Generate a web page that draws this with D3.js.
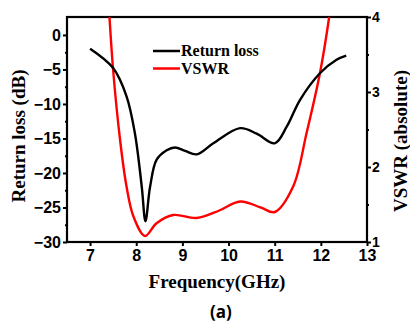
<!DOCTYPE html>
<html>
<head>
<meta charset="utf-8">
<script src="https://cdn.jsdelivr.net/npm/d3@7"></script>
<style>
  body { margin: 0; background: #fff; }
  svg { display: block; }
</style>
</head>
<body>
<svg id="chart" width="410" height="324"></svg>
<script>
// Return loss (dB)
const rlFreq = [7.0, 7.5, 7.79, 7.97, 8.12, 8.2, 8.3, 8.44, 8.66, 8.84, 9.06, 9.31, 9.67, 10.25, 10.61, 11.0, 11.26, 11.55, 11.98, 12.34, 12.55];
const rlDb   = [-2.0, -4.8, -8.9, -14.2, -22.0, -27.0, -22.0, -18.1, -16.7, -16.3, -16.8, -17.3, -15.7, -13.5, -14.3, -15.7, -13.3, -9.4, -5.55, -3.6, -3.0];

// VSWR (absolute)
const vsFreq = [7.38, 7.42, 7.5, 7.65, 7.79, 7.94, 8.19, 8.44, 8.8, 9.31, 9.8, 10.25, 10.7, 11.0, 11.4, 11.69, 11.98, 12.18, 12.22];
const vsVal  = [4.4, 4.0, 3.29, 2.36, 1.74, 1.34, 1.08, 1.25, 1.36, 1.32, 1.42, 1.54, 1.46, 1.4, 1.74, 2.45, 3.25, 4.0, 4.2];

const xTicks = [7, 8, 9, 10, 11, 12, 13];
const yLeftTicks = [0, -5, -10, -15, -20, -25, -30];
const yRightTicks = [1, 2, 3, 4];

const margin = { left: 67, top: 17, right: 43, bottom: 82 };
const W = 410, H = 324;
const iw = W - margin.left - margin.right;
const ih = H - margin.top - margin.bottom;

const svg = d3.select('#chart');
const g = svg.append('g').attr('transform', `translate(${margin.left},${margin.top})`);

const x = d3.scaleLinear().domain([6.5, 13]).range([0, iw]);
const yL = d3.scaleLinear().domain([-30, 2.6]).range([ih, 0]);
const yR = d3.scaleLinear().domain([1, 4]).range([ih, 0]);

const tickFont = 'Liberation Sans, Arial, sans-serif';
const serif = 'Liberation Serif, Times New Roman, serif';

// axes
const xAxis = g.append('g').attr('transform', `translate(0,${ih})`)
  .call(d3.axisBottom(x).tickValues(xTicks).tickFormat(d3.format('d')).tickSize(4).tickPadding(4));

const yAxisL = g.append('g')
  .call(d3.axisLeft(yL).tickValues(yLeftTicks).tickSize(4).tickPadding(2));
const yMinorL = g.append('g')
  .call(d3.axisLeft(yL).tickValues([-2.5, -7.5, -12.5, -17.5, -22.5, -27.5]).tickFormat('').tickSize(2));

const yAxisR = g.append('g').attr('transform', `translate(${iw},0)`)
  .call(d3.axisRight(yR).tickValues(yRightTicks).tickFormat(d3.format('d')).tickSize(4).tickPadding(1));
const yMinorR = g.append('g').attr('transform', `translate(${iw},0)`)
  .call(d3.axisRight(yR).tickValues([1.5, 2.5, 3.5]).tickFormat('').tickSize(2));

[xAxis, yAxisL, yMinorL, yAxisR, yMinorR].forEach(a => {
  a.select('.domain').remove();
  a.selectAll('line').attr('stroke', '#000').attr('stroke-width', 2);
  a.selectAll('text')
    .attr('font-family', tickFont)
    .attr('font-weight', 'bold')
    .attr('font-size', '16px')
    .attr('fill', '#000');
});
yAxisR.selectAll('text').attr('font-size', '14px');

// frame
g.append('rect')
  .attr('width', iw).attr('height', ih)
  .attr('fill', 'none').attr('stroke', '#000').attr('stroke-width', 2.2);

// curves
g.append('clipPath').attr('id', 'clip')
  .append('rect').attr('width', iw).attr('height', ih);

const rlLine = d3.line()
  .x((d, i) => x(rlFreq[i]))
  .y(d => yL(d))
  .curve(d3.curveCatmullRom.alpha(0.5));

const vsLine = d3.line()
  .x((d, i) => x(vsFreq[i]))
  .y(d => yR(d))
  .curve(d3.curveCatmullRom.alpha(0.5));

g.append('path')
  .attr('d', vsLine(vsVal))
  .attr('fill', 'none').attr('stroke', '#ff0000').attr('stroke-width', 2.4)
  .attr('clip-path', 'url(#clip)');

g.append('path')
  .attr('d', rlLine(rlDb))
  .attr('fill', 'none').attr('stroke', '#000').attr('stroke-width', 2.4)
  .attr('clip-path', 'url(#clip)');

// legend
const legendData = [
  { label: 'Return loss', color: '#000' },
  { label: 'VSWR', color: '#ff0000' },
];
const legend = g.append('g').attr('transform', `translate(86,34)`);
const items = legend.selectAll('g').data(legendData).enter().append('g')
  .attr('transform', (_, i) => `translate(0,${i * 17.5})`);
items.append('line')
  .attr('x1', 0).attr('x2', 27)
  .attr('stroke', d => d.color).attr('stroke-width', 2.5);
items.append('text')
  .attr('x', 28).attr('y', 5)
  .text(d => d.label)
  .attr('font-family', serif)
  .attr('font-weight', 'bold')
  .attr('font-size', '16px')
  .attr('fill', '#000');

// axis titles
svg.append('text')
  .attr('transform', `translate(25,136) rotate(-90)`)
  .attr('text-anchor', 'middle')
  .attr('font-family', serif).attr('font-weight', 'bold').attr('font-size', '19px')
  .text('Return loss (dB)');

svg.append('text')
  .attr('transform', `translate(407,141) rotate(-90)`)
  .attr('text-anchor', 'middle')
  .attr('font-family', serif).attr('font-weight', 'bold').attr('font-size', '19px')
  .text('VSWR (absolute)');

svg.append('text')
  .attr('x', 217).attr('y', 288)
  .attr('text-anchor', 'middle')
  .attr('font-family', serif).attr('font-weight', 'bold').attr('font-size', '19px')
  .text('Frequency(GHz)');

svg.append('text')
  .attr('x', 221).attr('y', 318)
  .attr('text-anchor', 'middle')
  .attr('font-family', 'Open Sans, sans-serif').attr('font-weight', 'bold').attr('font-size', '17px')
  .text('(a)');
</script>
</body>
</html>
